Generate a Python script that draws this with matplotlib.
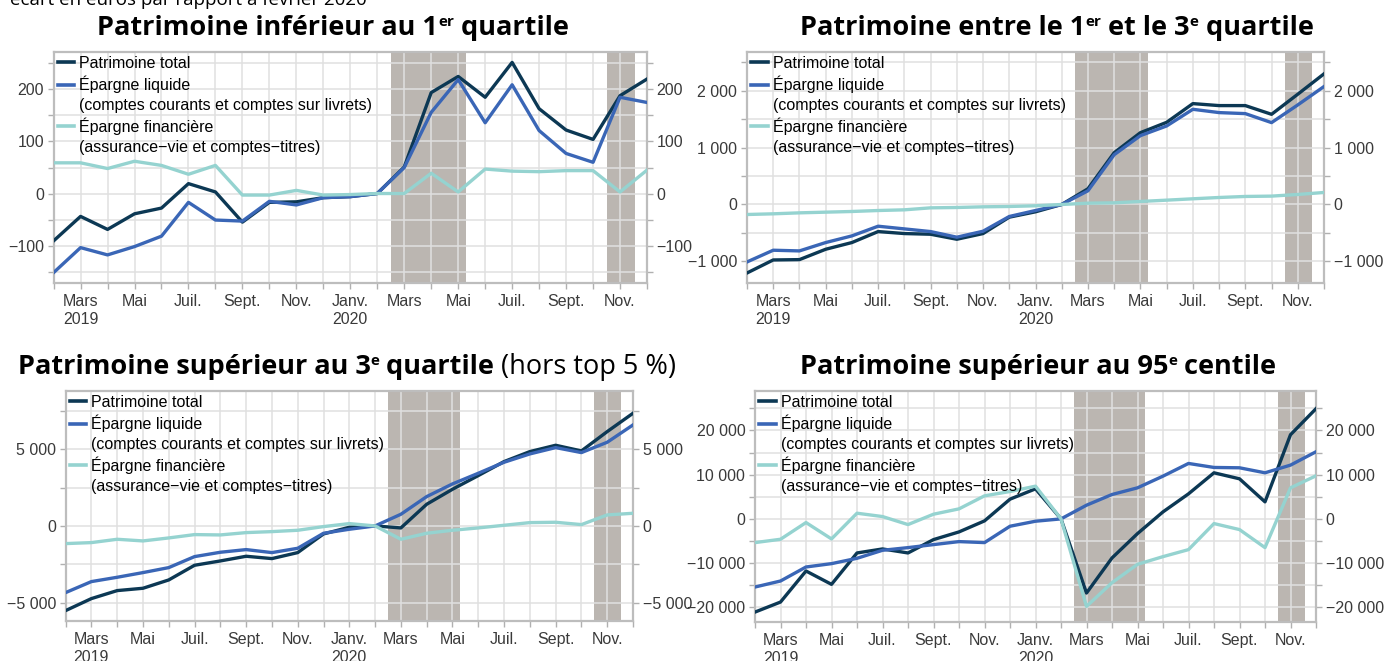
import numpy as np
import matplotlib
matplotlib.use("Agg")
import matplotlib.pyplot as plt
from matplotlib.lines import Line2D
from matplotlib.ticker import FixedLocator, FuncFormatter

plt.rcParams['font.family'] = ['Liberation Sans', 'DejaVu Sans']

# mois de février 2019 à décembre 2020
mois = ['', 'Mars\n2019', '', 'Mai', '', 'Juil.', '', 'Sept.', '', 'Nov.', '',
        'Janv.\n2020', '', 'Mars', '', 'Mai', '', 'Juil.', '', 'Sept.', '', 'Nov.', '']

# périodes de confinement (en position de mois)
confinements = [(12.5, 15.3), (20.5, 21.55)]

# Patrimoine inférieur au 1er quartile
q1_total = [-91, -44, -69, -39, -28, 19, 3, -55, -17, -16, -8, -6, 0,
            51, 194, 225, 185, 252, 163, 122, 104, 188, 220]
q1_liquide = [-152, -104, -118, -102, -82, -17, -51, -53, -15, -22, -8, -6, 0,
              50, 156, 219, 136, 209, 121, 77, 60, 185, 175]
q1_financiere = [59, 59, 48, 62, 54, 37, 54, -3, -3, 6, -3, -2, 0,
                 0, 39, 3, 47, 43, 42, 44, 44, 3, 45]

# Patrimoine entre le 1er et le 3e quartile
q2_total = [-1204, -975, -969, -787, -669, -476, -511, -523, -611, -511, -223, -129, 0,
            276, 910, 1262, 1444, 1773, 1738, 1738, 1585, 1938, 2296]
q2_liquide = [-1010, -804, -816, -669, -552, -382, -429, -476, -575, -470, -211, -106, 0,
              241, 875, 1210, 1380, 1673, 1615, 1597, 1439, 1750, 2073]
q2_financiere = [-176, -164, -147, -135, -123, -106, -94, -59, -53, -41, -35, -23, 0,
                 23, 29, 53, 76, 100, 123, 141, 147, 176, 211]

# Patrimoine supérieur au 3e quartile (hors top 5 %)
q3_total = [-5522, -4739, -4217, -4065, -3522, -2565, -2283, -1978, -2130, -1739, -522, -87, 0,
            -130, 1413, 2391, 3283, 4196, 4848, 5261, 4891, 6152, 7348]
q3_liquide = [-4348, -3630, -3348, -3043, -2717, -2000, -1717, -1543, -1739, -1457, -478, -217, 0,
              761, 1913, 2739, 3435, 4152, 4696, 5109, 4783, 5457, 6587]
q3_financiere = [-1152, -1087, -870, -978, -783, -565, -587, -435, -370, -283, -43, 152, 0,
                 -870, -478, -283, -130, 43, 217, 239, 87, 717, 826]

# Patrimoine supérieur au 95e centile
top_total = [-21057, -18792, -11774, -14792, -7698, -6792, -7698, -4679, -2943, -453, 4453, 6792, 0,
             -16755, -8830, -3321, 1585, 5660, 10415, 9057, 3849, 19019, 24906]
top_liquide = [-15396, -14038, -10868, -10113, -8906, -7094, -6491, -5811, -5132, -5358, -1660, -528, 0,
               3094, 5509, 7019, 9660, 12528, 11623, 11547, 10415, 12151, 15170]
top_financiere = [-5358, -4604, -830, -4528, 1283, 528, -1283, 1057, 2264, 5208, 6189, 7396, 0,
                  -19774, -14415, -10264, -8528, -6943, -1057, -2415, -6491, 7019, 9736]

noms = ['Patrimoine total', 'Épargne liquide', '(comptes courants et comptes sur livrets)',
        'Épargne financière', '(assurance\u2212vie et comptes\u2212titres)']
couleurs = ['#0c3854', '#3a66b6', '#95d3d0']

W, H = 1388, 661
fig = plt.figure(figsize=(W / 100, H / 100), dpi=100)


def box(l, t, r, b):
    return [l / W, 1 - b / H, (r - l) / W, (b - t) / H]


panneaux = [
    (box(53.6, 52, 647, 283), (q1_total, q1_liquide, q1_financiere), (-172, 272), 100, 50),
    (box(747, 52, 1324, 283), (q2_total, q2_liquide, q2_financiere), (-1380, 2680), 1000, 500),
    (box(65.6, 391, 633, 621), (q3_total, q3_liquide, q3_financiere), (-6200, 8800), 5000, 2500),
    (box(755, 391, 1316, 622), (top_total, top_liquide, top_financiere), (-23300, 28900), 10000, 5000),
]


def fmt(v, pos):
    return f"{v:,.0f}".replace(",", " ").replace("-", "\u2212")


x = np.arange(len(mois))
for rect, series, ylim, major, minor in panneaux:
    ax = fig.add_axes(rect)
    for a, b in confinements:
        ax.axvspan(a, b, color='#bbb6b1', lw=0, zorder=0)
    for s, c in zip(series, couleurs):
        ax.plot(x, s, color=c, lw=2.4, zorder=3)
    ax.set_xlim(0, len(mois) - 1)
    ax.set_ylim(*ylim)
    ax.set_xticks(x)
    ax.set_xticklabels(mois)
    ax.yaxis.set_major_locator(FixedLocator(np.arange(-30000, 30001, major)))
    ax.yaxis.set_minor_locator(FixedLocator(np.arange(-30000 + minor, 30001, major)))
    ax.yaxis.set_major_formatter(FuncFormatter(fmt))
    ax.set_axisbelow(True)
    ax.grid(True, which='both', color='#e0e0e0', lw=1.1)
    ax.tick_params(axis='both', which='both', direction='out', length=4, width=1,
                   color='#b0b0b0', labelcolor='#3a3a3a', labelsize=11.5)
    ax.tick_params(axis='y', which='both', right=True, labelright=True, pad=3)
    ax.tick_params(axis='x', pad=4)
    for sp in ax.spines.values():
        sp.set_color('#bdbdbd')
        sp.set_linewidth(1.6)
    handles = [Line2D([], [], color=couleurs[0], lw=2.6),
               Line2D([], [], color=couleurs[1], lw=2.6),
               Line2D([], [], color='none'),
               Line2D([], [], color=couleurs[2], lw=2.6),
               Line2D([], [], color='none')]
    ax.legend(handles, noms, loc='upper left', bbox_to_anchor=(0, 1), frameon=False,
              fontsize=11.5, handlelength=1.05, handletextpad=0.3, labelspacing=0.29,
              borderaxespad=0.1, borderpad=0.15)

fig.canvas.draw()
rend = fig.canvas.get_renderer()


# titre en plusieurs morceaux (gras, exposant, normal)
def titre(xc, yb, morceaux, ha='center'):
    objs = []
    for txt, taille, poids, dy in morceaux:
        t = fig.text(0, 0, txt, fontfamily='Open Sans', fontsize=taille, fontweight=poids,
                     ha='left', va='baseline')
        objs.append((t, dy, t.get_window_extent(rend).width))
    total = sum(w for _, _, w in objs)
    x0 = xc - total / 2 if ha == 'center' else xc
    for t, dy, w in objs:
        t.set_position((x0 / W, 1 - (yb - dy) / H))
        x0 += w


ts, ss, up = 19.5, 11, 9
titre(333, 35, [('Patrimoine inférieur au 1', ts, 'bold', 0), ('er', ss, 'bold', up),
                (' quartile', ts, 'bold', 0)])
titre(1057, 35, [('Patrimoine entre le 1', ts, 'bold', 0), ('er', ss, 'bold', up),
                 (' et le 3', ts, 'bold', 0), ('e', ss, 'bold', up),
                 (' quartile', ts, 'bold', 0)])
titre(347, 374, [('Patrimoine supérieur au 3', ts, 'bold', 0), ('e', ss, 'bold', up),
                 (' quartile', ts, 'bold', 0), (' (hors top 5 %)', ts, 'normal', 0)])
titre(1038, 374, [('Patrimoine supérieur au 95', ts, 'bold', 0), ('e', ss, 'bold', up),
                  (' centile', ts, 'bold', 0)])

fig.text(10 / W, 1 - 5 / H, 'écart en euros par rapport à février 2020',
         fontfamily='Open Sans', fontsize=13.5, ha='left', va='baseline')

fig.savefig('out.png', dpi=100)
